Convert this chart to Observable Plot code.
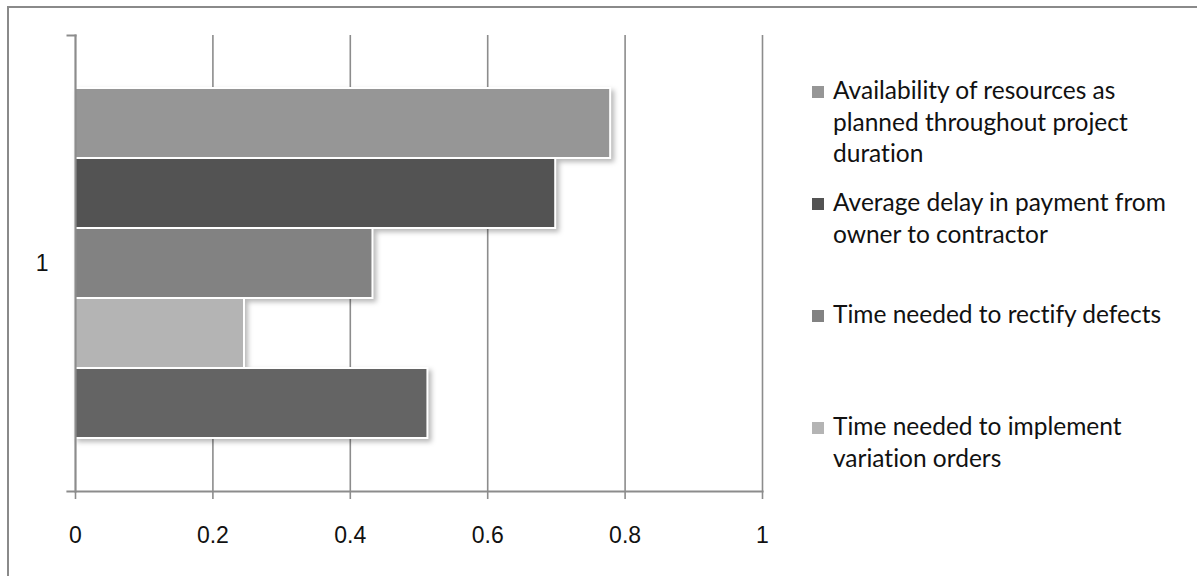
<!DOCTYPE html>
<html>
<head>
<meta charset="utf-8">
<script src="https://cdn.jsdelivr.net/npm/d3@7"></script>
<script src="https://cdn.jsdelivr.net/npm/@observablehq/plot@0.6"></script>
<style>
  html, body { margin: 0; padding: 0; background: #fff; overflow: hidden; width: 1197px; height: 576px; }
  #frame { position: absolute; left: 7px; top: 6px; width: 1400px; height: 800px; border: 2px solid #8a8a8a; box-sizing: border-box; }
  #chart { position: absolute; left: 0; top: 0; }
  #legend { position: absolute; left: 812px; top: 74px; width: 375px; font-family: Lato, "Liberation Sans", sans-serif; font-size: 24.5px; line-height: 31.5px; color: #111; font-variant-ligatures: none; font-feature-settings: "liga" 0, "clig" 0; }
  .item { position: relative; height: 112px; padding-left: 21px; box-sizing: border-box; }
  .sw { position: absolute; left: 0; top: 12px; width: 12px; height: 12px; }
  .lbl { display: block; width: 350px; }
</style>
</head>
<body>
<div id="frame"></div>
<div id="chart"></div>
<div id="legend"></div>
<script>
// Data
const category = "1";
const series = [
  "Availability of resources as planned throughout project duration",
  "Average delay in payment from owner to contractor",
  "Time needed to rectify defects",
  "Time needed to implement variation orders",
  "Series 5"
];
const values = [0.779, 0.699, 0.433, 0.246, 0.513];
const colors = ["#969696", "#535353", "#828282", "#b4b4b4", "#646464"];
const legendCount = 4; // only four legend entries are visible in the reference
const xTicks = [0, 0.2, 0.4, 0.6, 0.8, 1];

const data = series.map((s, i) => ({category, series: s, value: values[i], color: colors[i]}));

const gridColor = "#8c8c8c";

const chart = Plot.plot({
  width: 1197,
  height: 576,
  marginLeft: 75,
  marginRight: 435,
  marginTop: 35,
  marginBottom: 85,
  style: {fontFamily: "'Liberation Sans', Arial, sans-serif", fontSize: "23px", color: "#111", background: "transparent"},
  x: {domain: [0, 1], ticks: xTicks},
  fy: {domain: [category], padding: 0, label: null},
  y: {domain: series, paddingInner: 0, paddingOuter: 0.757, axis: null},
  marks: [
    Plot.gridX(xTicks.slice(1), {stroke: gridColor, strokeOpacity: 1, strokeWidth: 1.6}),
    Plot.axisX(xTicks, {tickSize: 8, tickPadding: 27, stroke: gridColor, strokeWidth: 1.6, tickFormat: d => String(d), label: null, fontSize: 23}),
    Plot.axisFy({anchor: "left", tickSize: 0, tickPadding: 27, label: null, fontSize: 23}),
    Plot.barX(data, {x: "value", y: "series", fy: "category", fill: "color", stroke: "#fff", strokeWidth: 2}),
    Plot.frame({anchor: "bottom", stroke: gridColor, strokeWidth: 2.2, insetLeft: -8}),
    Plot.frame({anchor: "left", stroke: gridColor, strokeWidth: 2.2}),
    Plot.frame({anchor: "top", stroke: gridColor, strokeWidth: 2, insetLeft: -8, insetRight: 687})
  ]
});
document.getElementById("chart").appendChild(chart);

// Excel-like soft shadow on bars
chart.querySelectorAll('g[aria-label="bar"]').forEach(g => {
  g.style.filter = "drop-shadow(3px 3px 2.5px rgba(0,0,0,0.28))";
});

const legend = document.getElementById("legend");
series.slice(0, legendCount).forEach((s, i) => {
  const item = document.createElement("div");
  item.className = "item";
  const sw = document.createElement("span");
  sw.className = "sw";
  sw.style.background = colors[i];
  const lbl = document.createElement("span");
  lbl.className = "lbl";
  lbl.textContent = s;
  item.appendChild(sw);
  item.appendChild(lbl);
  legend.appendChild(item);
});
</script>
</body>
</html>
